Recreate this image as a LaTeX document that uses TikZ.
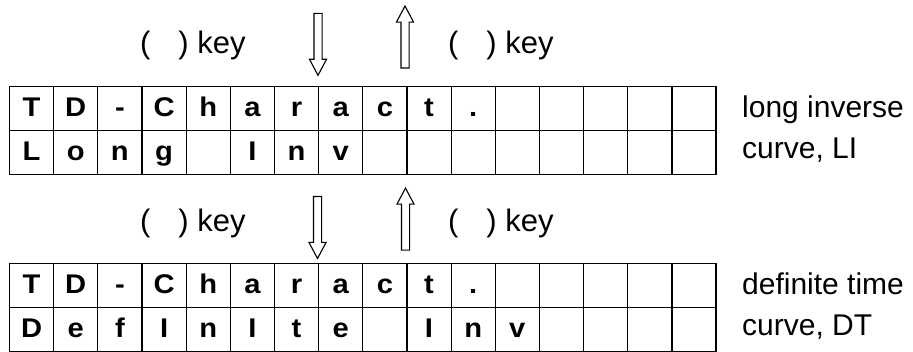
\documentclass[tikz,border=0pt]{standalone}
\usepackage{fontspec}
\setmainfont{Liberation Sans}
\newfontfamily\cellfont[FakeStretch=1.08]{Liberation Sans}
\usetikzlibrary{shapes.arrows}
\tikzset{
  cell/.style={draw, line width=1.2pt, minimum width=44.16pt, minimum height=44pt,
    inner sep=0pt, font=\cellfont\fontsize{27}{27}\selectfont\bfseries, text height=19pt, text depth=2pt},
  keyarrow/.style={single arrow, draw, line width=1.1pt, inner sep=3.5pt, minimum height=62pt,
    single arrow head extend=4.5pt, single arrow tip angle=56},
  keylbl/.style={anchor=base west, inner sep=0pt, font=\fontsize{31}{35}\selectfont},
  curvelbl/.style={anchor=base west, inner sep=0pt, align=left, font=\fontsize{30}{41.5}\selectfont}
}
\begin{document}
\begin{tikzpicture}[x=1pt,y=1pt]
  \useasboundingbox (0,0) rectangle (913,351);
  % keys above the first display
  \node[keylbl] (kdn1) at (140,297.7) {(\hspace{0.9em}) key};
  \node[keyarrow, rotate=-90] (dn1) at (318,310.5) {};
  \node[keyarrow, rotate=90] (up1) at (405,310.2) {};
  \node[keylbl] (kup1) at (448,297.7) {(\hspace{0.9em}) key};
  % first display
  \foreach \ch [count=\i] in {T,D,-,C,h,a,r,a,c,t,.,{},{},{},{},{}}
    \node[cell] (a1-\i) at ({9.5+(\i-0.5)*44.16},242.5) {\ch};
  \foreach \ch [count=\i] in {L,o,n,g,{},I,n,v,{},{},{},{},{},{},{},{}}
    \node[cell] (a2-\i) at ({9.5+(\i-0.5)*44.16},198.5) {\ch};
  \node[curvelbl] (li) at (742,192) {long inverse\\curve, LI};
  % keys above the second display
  \node[keylbl] (kdn2) at (140,119.3) {(\hspace{0.9em}) key};
  \node[keyarrow, rotate=-90] (dn2) at (317.5,127.3) {};
  \node[keyarrow, rotate=90] (up2) at (405.5,128.1) {};
  \node[keylbl] (kup2) at (448,119.3) {(\hspace{0.9em}) key};
  % second display
  \foreach \ch [count=\i] in {T,D,-,C,h,a,r,a,c,t,.,{},{},{},{},{}}
    \node[cell] (b1-\i) at ({9.5+(\i-0.5)*44.16},65.7) {\ch};
  \foreach \ch [count=\i] in {D,e,f,I,n,I,t,e,{},I,n,v,{},{},{},{}}
    \node[cell] (b2-\i) at ({9.5+(\i-0.5)*44.16},21.7) {\ch};
  \node[curvelbl] (dt) at (742,15.2) {definite time\\curve, DT};
\end{tikzpicture}
\end{document}
